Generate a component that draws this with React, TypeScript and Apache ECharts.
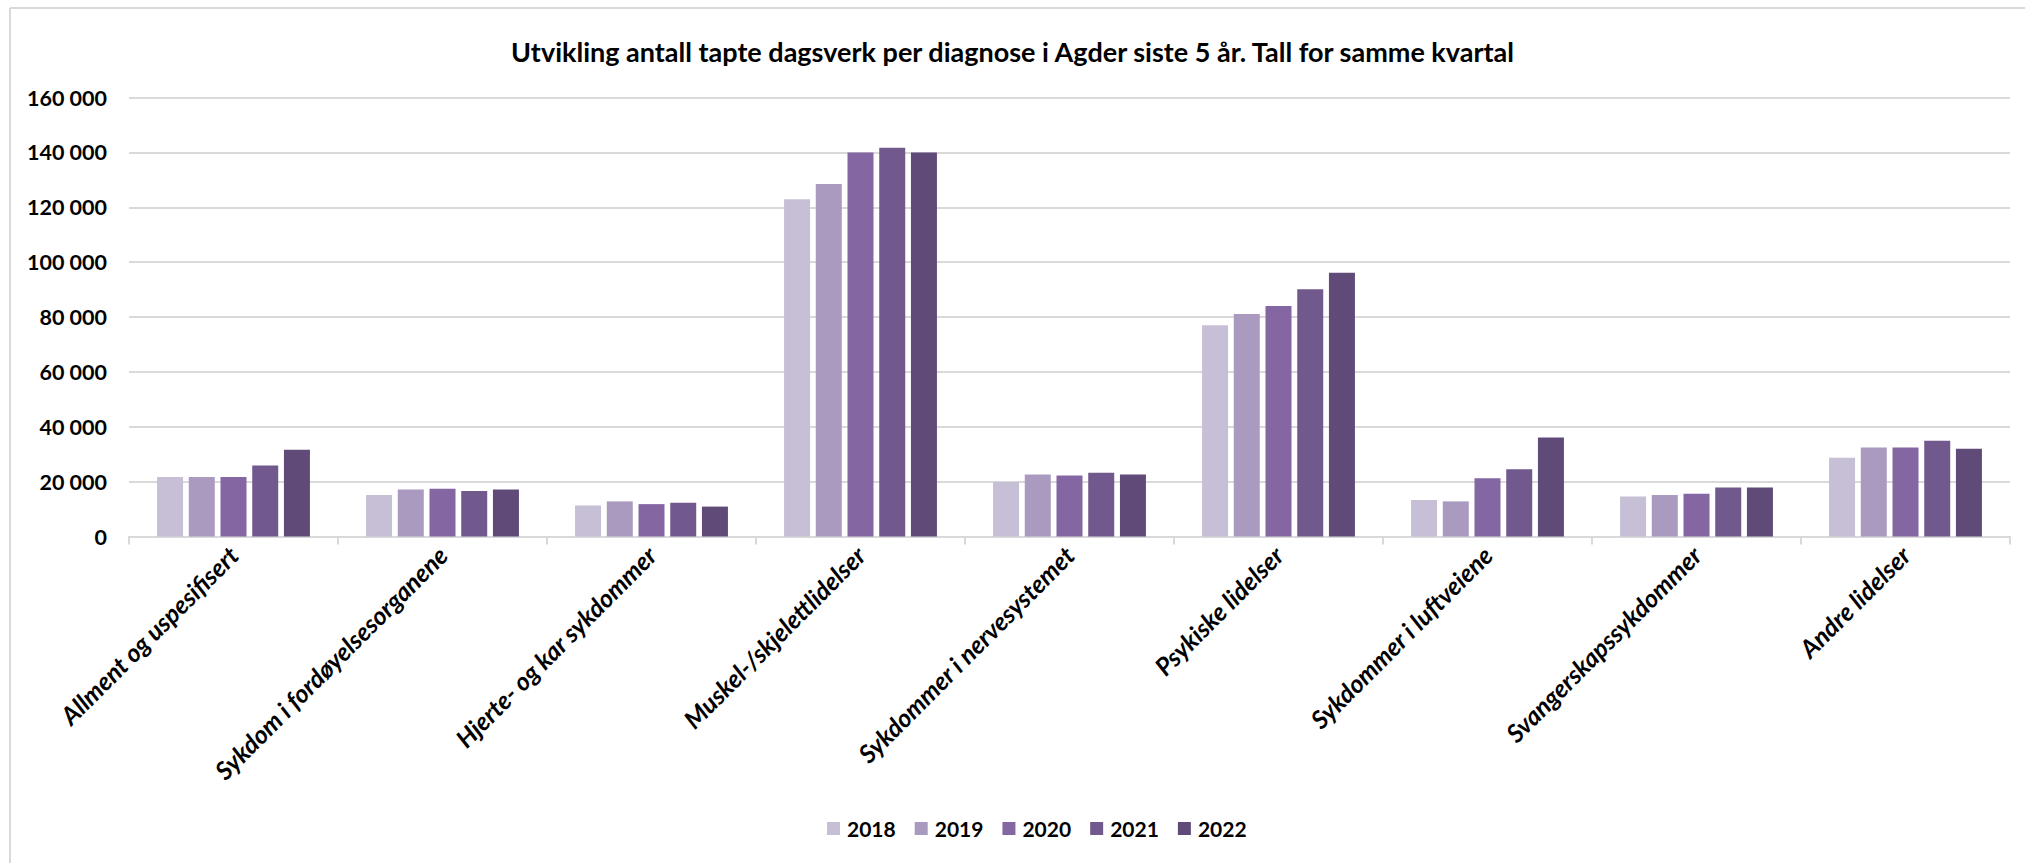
import React, { useEffect, useRef } from "react";
import * as echarts from "echarts";

const categories = [
  "Allment og uspesifisert",
  "Sykdom i fordøyelsesorganene",
  "Hjerte- og kar sykdommer",
  "Muskel-/skjelettlidelser",
  "Sykdommer i nervesystemet",
  "Psykiske lidelser",
  "Sykdommer i luftveiene",
  "Svangerskapssykdommer",
  "Andre lidelser",
];

const years = ["2018", "2019", "2020", "2021", "2022"];

const v2018 = [21700, 15100, 11300, 122900, 19900, 77000, 13300, 14600, 28700];
const v2019 = [21700, 17100, 12800, 128500, 22600, 81100, 12800, 15100, 32400];
const v2020 = [21700, 17400, 11800, 140000, 22200, 84000, 21200, 15600, 32400];
const v2021 = [25900, 16600, 12300, 141700, 23200, 90100, 24500, 17900, 34900];
const v2022 = [31600, 17100, 10900, 140000, 22600, 96100, 36100, 17900, 32000];

const seriesValues = [v2018, v2019, v2020, v2021, v2022];
const colors = ["#C7BFD6", "#AA9ABF", "#8366A2", "#72598D", "#5F4A78"];

const yTicks = [0, 20000, 40000, 60000, 80000, 100000, 120000, 140000, 160000];

const FONT = "Lato";

function fmt(v: number): string {
  return String(v).replace(/\B(?=(\d{3})+(?!\d))/g, " ");
}

export default function App() {
  const ref = useRef<HTMLDivElement>(null);
  useEffect(() => {
    if (!ref.current) return;
    const chart = echarts.init(ref.current, undefined, { renderer: "svg" });
    chart.setOption({
      animation: false,
      backgroundColor: "#ffffff",
      title: {
        text: "Utvikling antall tapte dagsverk per diagnose i Agder siste 5 år. Tall for samme kvartal",
        left: "center",
        top: 33,
        textStyle: { fontFamily: FONT, fontWeight: "bold", fontSize: 27, color: "#000000" },
      },
      graphic: [
        { type: "line", shape: { x1: 10, y1: 8, x2: 2025, y2: 8 }, style: { stroke: "#D9D9D9", lineWidth: 2 } },
        { type: "line", shape: { x1: 10, y1: 8, x2: 10, y2: 863 }, style: { stroke: "#D9D9D9", lineWidth: 2 } },
      ],
      legend: {
        data: years,
        left: 822,
        top: 813,
        itemWidth: 13,
        itemHeight: 13,
        itemGap: 19,
        icon: "rect",
        textStyle: { fontFamily: FONT, fontWeight: "bold", fontSize: 21, color: "#000000", padding: [0, 0, 0, 2] },
      },
      grid: { left: 129, right: 15, top: 97.5, bottom: 326.5, containLabel: false },
      xAxis: {
        type: "category",
        data: categories,
        boundaryGap: true,
        axisLine: { lineStyle: { color: "#D9D9D9", width: 2 } },
        axisTick: { show: true, alignWithLabel: false, length: 8, lineStyle: { color: "#D9D9D9", width: 2 } },
        axisLabel: {
          rotate: 45,
          interval: 0,
          margin: 14,
          fontFamily: FONT,
          fontWeight: "bold",
          fontStyle: "italic",
          fontSize: 25,
          color: "#000000",
        },
      },
      yAxis: {
        type: "value",
        min: 0,
        max: 160000,
        interval: 20000,
        axisLine: { show: false },
        axisTick: { show: false },
        splitLine: { lineStyle: { color: "#D9D9D9", width: 2 } },
        axisLabel: {
          margin: 22,
          fontFamily: FONT,
          fontWeight: "bold",
          fontSize: 21.5,
          color: "#000000",
          formatter: (v: number) => (yTicks.includes(v) ? fmt(v) : ""),
        },
      },
      series: years.map((y, i) => ({
        name: y,
        type: "bar",
        data: seriesValues[i],
        barWidth: 26,
        barGap: "22%",
        itemStyle: { color: colors[i] },
      })),
    });
    return () => chart.dispose();
  }, []);
  return (
    <div
      ref={ref}
      style={{ position: "fixed", left: 0, top: 0, width: 2025, height: 863 }}
    />
  );
}
